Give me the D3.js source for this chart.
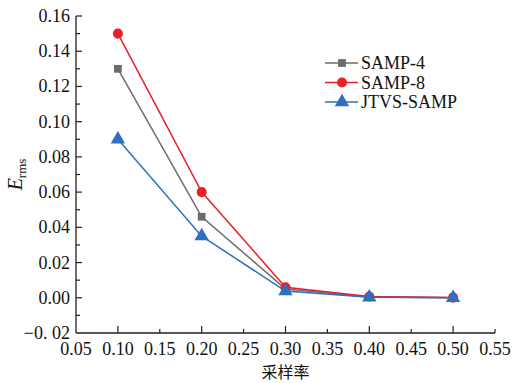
<!DOCTYPE html>
<html lang="zh-CN"><head><meta charset="UTF-8">
<title>Erms vs sampling rate</title>
<style>
	body { margin: 0; background: #fff; }
	svg text { font-family: 'Liberation Serif', 'DejaVu Serif', serif; fill: #111; }
	.cjk { font-family: 'Noto Sans CJK SC', sans-serif; }
</style>
<script src="https://d3js.org/d3.v7.min.js" charset="utf-8"></script>
</head>
<body>
<div id="chart"></div>
<script type="text/javascript">
	var rates = [0.10, 0.20, 0.30, 0.40, 0.50];
	var samp4 = [0.130, 0.046, 0.0050, 0.0005, 0.0000];
	var samp8 = [0.150, 0.060, 0.0060, 0.0007, 0.0001];
	var jtvs  = [0.090, 0.035, 0.0038, 0.0003, 0.0000];
	var seriesNames = ['SAMP-4', 'SAMP-8', 'JTVS-SAMP'];
	var xTicks = [0.05, 0.10, 0.15, 0.20, 0.25, 0.30, 0.35, 0.40, 0.45, 0.50, 0.55];
	var yTicks = [-0.02, 0.00, 0.02, 0.04, 0.06, 0.08, 0.10, 0.12, 0.14, 0.16];

	var colors = ['#6b6b6b', '#e8202a', '#2f6fbf'];
	var shapes = [d3.symbolSquare, d3.symbolCircle, d3.symbolTriangle];
	var sizes = [60, 80, 90];
	var allSeries = [samp4, samp8, jtvs];

	var W = 515, H = 383;
	var m = {left: 76, right: 20, top: 16, bottom: 50};

	var svg = d3.select('#chart').append('svg')
		.attr('width', W).attr('height', H);

	var x = d3.scaleLinear().domain([0.05, 0.55]).range([m.left, W - m.right]);
	var y = d3.scaleLinear().domain([-0.02, 0.16]).range([H - m.bottom, m.top]);

	// x axis: long ticks every 0.1, short ones in between, every one labelled
	var xAxis = svg.append('g').attr('transform', 'translate(0,' + (H - m.bottom) + ')');
	xAxis.append('line').attr('x1', x(0.05)).attr('x2', x(0.55))
		.attr('stroke', '#231f20').attr('stroke-width', 1.3);
	xAxis.selectAll('line.t').data(xTicks.slice(1)).enter().append('line')
		.attr('class', 't')
		.attr('x1', d => x(d)).attr('x2', d => x(d))
		.attr('y1', 0).attr('y2', (d, i) => i % 2 == 0 ? -7 : -4)
		.attr('stroke', '#231f20').attr('stroke-width', 1.2);
	xAxis.selectAll('text').data(xTicks).enter().append('text')
		.attr('x', d => x(d)).attr('y', 22)
		.attr('text-anchor', 'middle').attr('font-size', 18)
		.text(d => d3.format('.2f')(d));

	// y axis
	var yAxis = svg.append('g').attr('transform', 'translate(' + m.left + ',0)');
	yAxis.append('line').attr('y1', y(-0.02)).attr('y2', y(0.16))
		.attr('stroke', '#231f20').attr('stroke-width', 1.3);
	var yMinor = d3.range(-0.01, 0.16, 0.02);
	yAxis.selectAll('line.t').data(yTicks.slice(1)).enter().append('line')
		.attr('class', 't')
		.attr('y1', d => y(d)).attr('y2', d => y(d))
		.attr('x1', 0).attr('x2', 6)
		.attr('stroke', '#231f20').attr('stroke-width', 1.2);
	yAxis.selectAll('line.m').data(yMinor).enter().append('line')
		.attr('class', 'm')
		.attr('y1', d => y(d)).attr('y2', d => y(d))
		.attr('x1', 0).attr('x2', 4)
		.attr('stroke', '#231f20').attr('stroke-width', 1.2);
	yAxis.selectAll('text').data(yTicks).enter().append('text')
		.attr('x', -6).attr('y', d => y(d) + 6)
		.attr('text-anchor', 'end').attr('font-size', 18)
		.text(d => d < 0 ? '\u22120. 02' : d3.format('.2f')(d));

	// axis titles
	var yt = svg.append('text')
		.attr('transform', 'translate(22,' + y(0.07) + ') rotate(-90)')
		.attr('text-anchor', 'middle').attr('font-size', 20);
	yt.append('tspan').attr('font-style', 'italic').text('E');
	yt.append('tspan').attr('font-size', 13).attr('dy', 4).text('rms');

	svg.append('text').attr('class', 'cjk')
		.attr('x', x(0.30)).attr('y', H - 5)
		.attr('text-anchor', 'middle').attr('font-size', 16)
		.text('采样率');

	// lines and markers
	var line = d3.line().x((d, i) => x(rates[i])).y(d => y(d));
	allSeries.forEach(function (s, k) {
		svg.append('path').datum(s)
			.attr('d', line).attr('fill', 'none')
			.attr('stroke', colors[k]).attr('stroke-width', 1.5);
	});
	allSeries.forEach(function (s, k) {
		svg.selectAll('path.p' + k).data(s).enter().append('path')
			.attr('class', 'p' + k)
			.attr('transform', (d, i) => 'translate(' + x(rates[i]) + ',' + y(d) + ')')
			.attr('d', d3.symbol().type(shapes[k]).size(sizes[k]))
			.attr('fill', colors[k]);
	});

	// legend
	var lg = svg.append('g').attr('transform', 'translate(325,63)');
	seriesNames.forEach(function (n, k) {
		var row = lg.append('g').attr('transform', 'translate(0,' + (k * 19.5) + ')');
		row.append('line').attr('x1', 0).attr('x2', 33)
			.attr('stroke', colors[k]).attr('stroke-width', 1.5);
		row.append('path').attr('transform', 'translate(17,0)')
			.attr('d', d3.symbol().type(shapes[k]).size(sizes[k]))
			.attr('fill', colors[k]);
		row.append('text').attr('x', 36).attr('y', 6)
			.attr('font-size', 18).text(n);
	});
</script>
</body></html>
